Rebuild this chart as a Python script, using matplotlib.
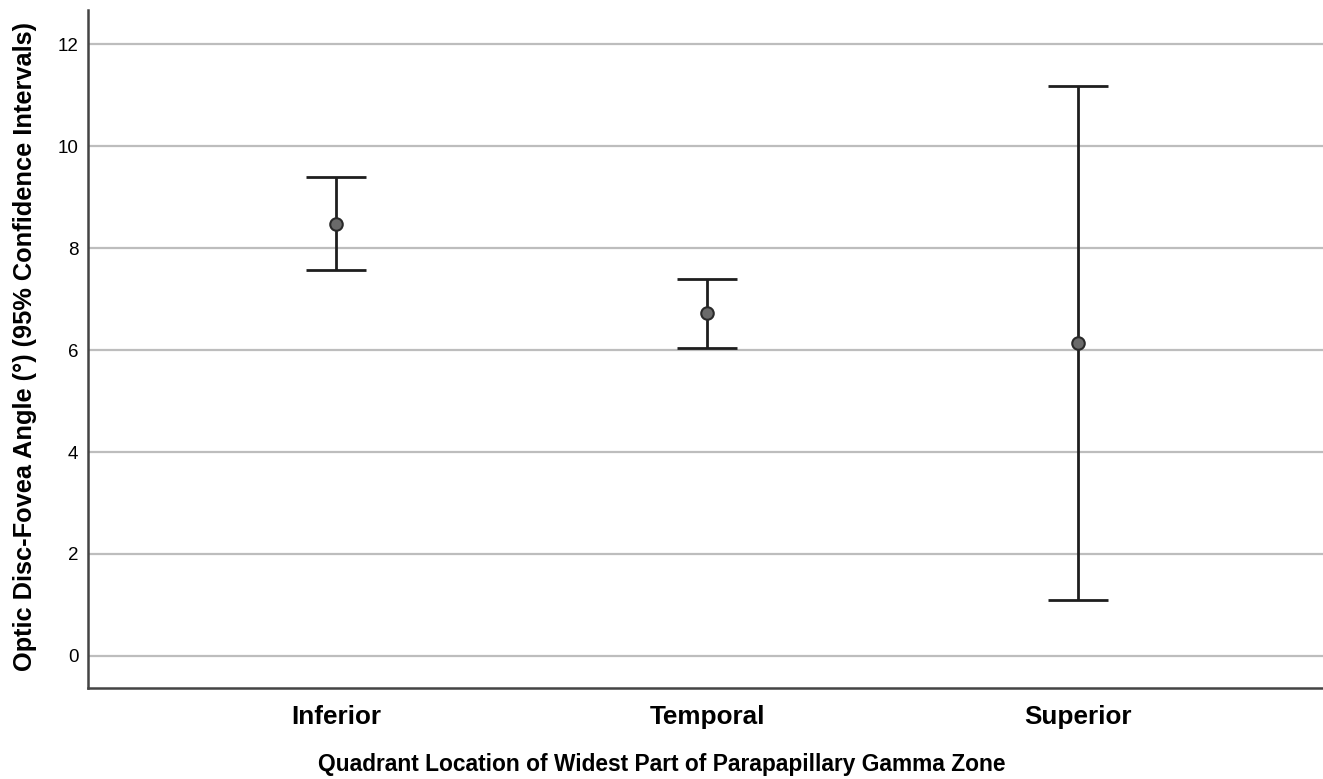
import matplotlib
matplotlib.use("Agg")
import matplotlib.pyplot as plt

categories = ["Inferior", "Temporal", "Superior"]
means = [8.47, 6.73, 6.14]
lower = [7.57, 6.04, 1.10]
upper = [9.39, 7.39, 11.18]
yticks = [0, 2, 4, 6, 8, 10, 12]

plt.rcParams['font.family'] = ['Liberation Sans', 'DejaVu Sans']

fig = plt.figure(figsize=(13.23, 7.79), dpi=100)
ax = fig.add_axes([0.0665, 0.1168, 0.9335, 0.870])

x = list(range(len(categories)))
yerr = [[m - l for m, l in zip(means, lower)], [u - m for m, u in zip(means, upper)]]

for yt in yticks:
    ax.axhline(yt, color="#bdbdbd", linewidth=1.6, zorder=1)

ax.errorbar(x, means, yerr=yerr, fmt="none", ecolor="#1e1e1e", elinewidth=2.0,
            capsize=21.5, capthick=2.0, zorder=3)
ax.plot(x, means, "o", markersize=9, markerfacecolor="#6a6a6a",
        markeredgecolor="#2a2a2a", markeredgewidth=1.5, zorder=4, linestyle="none")

ax.set_xlim(-0.67, 2.66)
ax.set_ylim(-0.63, 12.67)
ax.set_xticks(x)
ax.set_xticklabels(categories, fontsize=18.8, fontweight="bold")
ax.set_yticks(yticks)
ax.set_yticklabels([str(v) for v in yticks], fontsize=13.5)
ax.tick_params(axis="y", length=0, pad=7)
ax.tick_params(axis="x", length=0, pad=12)

for side in ["top", "right"]:
    ax.spines[side].set_visible(False)
for side in ["left", "bottom"]:
    ax.spines[side].set_color("#444444")
    ax.spines[side].set_linewidth(1.8)

ax.set_xlabel("Quadrant Location of Widest Part of Parapapillary Gamma Zone",
              fontsize=16.4, fontweight="bold")
ax.xaxis.set_label_coords((0.5 - 0.0665) / 0.9335, -0.096)
ax.set_ylabel("Optic Disc-Fovea Angle (°) (95% Confidence Intervals)",
              fontsize=18.3, fontweight="bold")
ax.yaxis.set_label_coords(-0.0415, 0.504)

fig.savefig("out.png", dpi=100)
